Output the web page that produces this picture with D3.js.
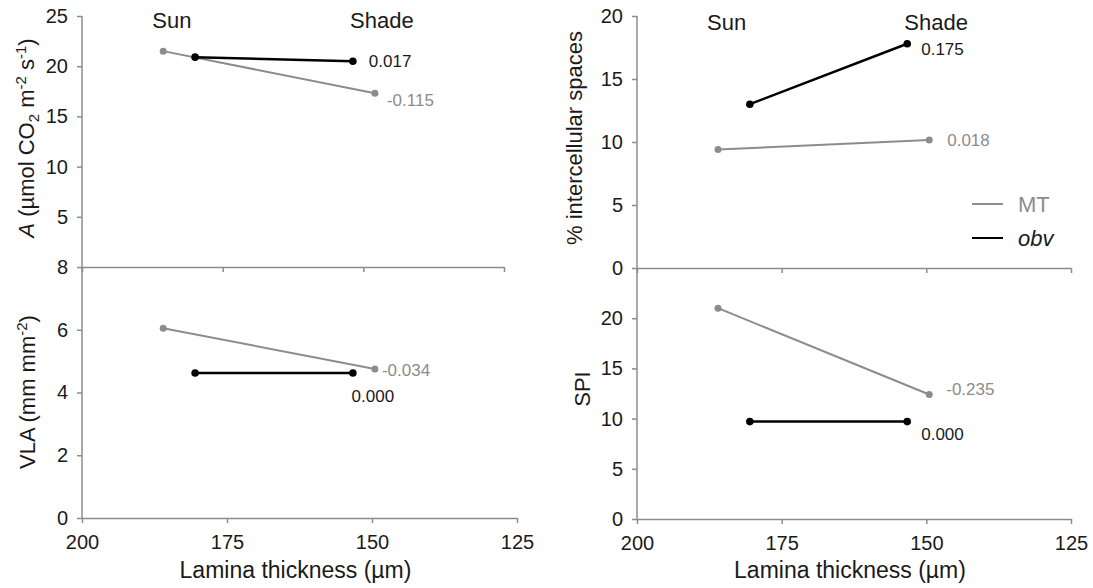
<!DOCTYPE html>
<html>
<head>
<meta charset="utf-8">
<script src="https://cdn.jsdelivr.net/npm/d3@7"></script>
<style>
  body { margin: 0; background: #fff; }
  svg { font-family: "Liberation Sans", Arial, sans-serif; }
</style>
</head>
<body>
<svg id="chart" width="1093" height="588"></svg>
<script>
// lamina thickness (µm) of sun and shade leaves
var thickMT = [186, 149.5],
    thickObv = [180.5, 153.3];

// panel values, [sun, shade]
var aMT = [21.5, 17.3], aObv = [20.9, 20.5];
var vlaMT = [6.05, 4.75], vlaObv = [4.62, 4.62];
var icsMT = [9.4, 10.15], icsObv = [13.0, 17.8];
var spiMT = [21.0, 12.4], spiObv = [9.7, 9.7];

// slopes written next to the shade points, [MT, obv]
var aSlopes = ["-0.115", "0.017"],
    vlaSlopes = ["-0.034", "0.000"],
    icsSlopes = ["0.018", "0.175"],
    spiSlopes = ["-0.235", "0.000"];

var xTicks = [200, 175, 150, 125];
var lightColor = "#8c8c8c", darkColor = "#000", textColor = "#1a1a1a";

var svg = d3.select("#chart");

var xLeft = d3.scaleLinear().domain([200, 125]).range([82, 517]),
    xLeftTop = d3.scaleLinear().domain([200, 125]).range([82, 504]),
    xRight = d3.scaleLinear().domain([200, 125]).range([637, 1071]);

var panels = [
  { x: xLeft, xBase: xLeftTop, y: d3.scaleLinear().domain([0, 25]).range([267, 16]),
    ticks: [5, 10, 15, 20, 25], mt: aMT, obv: aObv, slopes: aSlopes,
    off: [[12, 13, "start"], [16, 6, "start"]], bottom: false },
  { x: xLeft, xBase: xLeft, y: d3.scaleLinear().domain([0, 8]).range([518, 267]),
    ticks: [0, 2, 4, 6, 8], mt: vlaMT, obv: vlaObv, slopes: vlaSlopes,
    off: [[7, 7, "start"], [20, 29, "middle"]], bottom: true },
  { x: xRight, xBase: xRight, y: d3.scaleLinear().domain([0, 20]).range([268, 16]),
    ticks: [0, 5, 10, 15, 20], mt: icsMT, obv: icsObv, slopes: icsSlopes,
    off: [[18, 6, "start"], [14, 11, "start"]], bottom: false },
  { x: xRight, xBase: xRight, y: d3.scaleLinear().domain([0, 25]).range([519, 268]),
    ticks: [0, 5, 10, 15, 20], mt: spiMT, obv: spiObv, slopes: spiSlopes,
    off: [[17, 0, "start"], [14, 18, "start"]], bottom: true }
];

panels.forEach(function(p) {
  var g = svg.append("g");
  var x0 = p.x.range()[0];

  // y axis
  var ya = g.append("g")
    .attr("transform", "translate(" + x0 + ",0)")
    .call(d3.axisLeft(p.y).tickValues(p.ticks).tickSize(5).tickPadding(9).tickSizeOuter(0));
  ya.select(".domain").attr("stroke", lightColor).attr("stroke-width", 1.5)
    .attr("d", "M0," + p.y.range()[0] + "V" + p.y.range()[1]);
  ya.selectAll(".tick line").attr("stroke", lightColor).attr("stroke-width", 1.5);
  ya.selectAll(".tick text").attr("fill", textColor).style("font-size", "20px");

  // x axis (baseline)
  var xa = g.append("g")
    .attr("transform", "translate(0," + p.y.range()[0] + ")")
    .call(d3.axisBottom(p.xBase).tickValues(xTicks).tickSize(5).tickPadding(12).tickSizeOuter(0));
  xa.select(".domain").attr("stroke", lightColor).attr("stroke-width", 1.5);
  xa.selectAll(".tick line").attr("stroke", lightColor).attr("stroke-width", 1.5);
  xa.selectAll(".tick text").attr("fill", textColor).style("font-size", "20px")
    .style("display", p.bottom ? null : "none");

  var sets = [
    { t: thickMT, v: p.mt, c: lightColor, w: 2, r: 3.5 },
    { t: thickObv, v: p.obv, c: darkColor, w: 2.5, r: 3.8 }
  ];
  var line = d3.line();

  sets.forEach(function(s, i) {
    var pts = s.t.map(function(t, j) { return [p.x(t), p.y(s.v[j])]; });
    g.append("path")
      .attr("d", line(pts))
      .attr("fill", "none")
      .attr("stroke", s.c)
      .attr("stroke-width", s.w);
    g.selectAll(null).data(pts).enter().append("circle")
      .attr("cx", function(d) { return d[0]; })
      .attr("cy", function(d) { return d[1]; })
      .attr("r", s.r)
      .attr("fill", s.c);
    var end = pts[1];
    g.append("text")
      .attr("x", end[0] + p.off[i][0])
      .attr("y", end[1] + p.off[i][1])
      .attr("text-anchor", p.off[i][2])
      .attr("fill", i === 0 ? lightColor : textColor)
      .style("font-size", "17px")
      .text(p.slopes[i]);
  });
});

// Sun / Shade headings
[[xLeft, 28], [xRight, 30]].forEach(function(h) {
  svg.append("text").attr("x", h[0](184.5)).attr("y", h[1])
    .attr("text-anchor", "middle").style("font-size", "22px").attr("fill", textColor).text("Sun");
  svg.append("text").attr("x", h[0](148.3)).attr("y", h[1])
    .attr("text-anchor", "middle").style("font-size", "22px").attr("fill", textColor).text("Shade");
});

// axis titles
function yTitle(x, y, build) {
  var t = svg.append("text")
    .attr("transform", "translate(" + x + "," + y + ") rotate(-90)")
    .attr("text-anchor", "middle")
    .style("font-size", "22px")
    .attr("fill", textColor);
  build(t);
}

yTitle(34, 138, function(t) {
  t.append("tspan").style("font-style", "italic").text("A");
  t.append("tspan").text(" (µmol CO");
  t.append("tspan").attr("dy", 5).style("font-size", "15px").text("2");
  t.append("tspan").attr("dy", -5).text(" m");
  t.append("tspan").attr("dy", -8).style("font-size", "15px").text("-2");
  t.append("tspan").attr("dy", 8).text(" s");
  t.append("tspan").attr("dy", -8).style("font-size", "15px").text("-1");
  t.append("tspan").attr("dy", 8).text(")");
});
yTitle(35, 392, function(t) {
  t.append("tspan").text("VLA (mm mm");
  t.append("tspan").attr("dy", -8).style("font-size", "15px").text("-2");
  t.append("tspan").attr("dy", 8).text(")");
});
yTitle(582, 138, function(t) { t.text("% intercellular spaces"); });
yTitle(590, 389, function(t) { t.text("SPI"); });

[xLeft, xRight].forEach(function(xs) {
  svg.append("text")
    .attr("x", (xs.range()[0] + xs.range()[1]) / 2 - 4)
    .attr("y", 578)
    .attr("text-anchor", "middle")
    .style("font-size", "23px")
    .attr("fill", textColor)
    .text("Lamina thickness (µm)");
});

// legend
var legend = svg.append("g").attr("transform", "translate(972,204)");
[["MT", lightColor, "normal"], ["obv", darkColor, "italic"]].forEach(function(d, i) {
  legend.append("line")
    .attr("x1", 0).attr("x2", 31)
    .attr("y1", i * 34).attr("y2", i * 34)
    .attr("stroke", d[1]).attr("stroke-width", 2);
  legend.append("text")
    .attr("x", 46).attr("y", i * 34 + 8)
    .style("font-size", "22px")
    .style("font-style", d[2])
    .attr("fill", i === 0 ? lightColor : textColor)
    .text(d[0]);
});
</script>
</body>
</html>
